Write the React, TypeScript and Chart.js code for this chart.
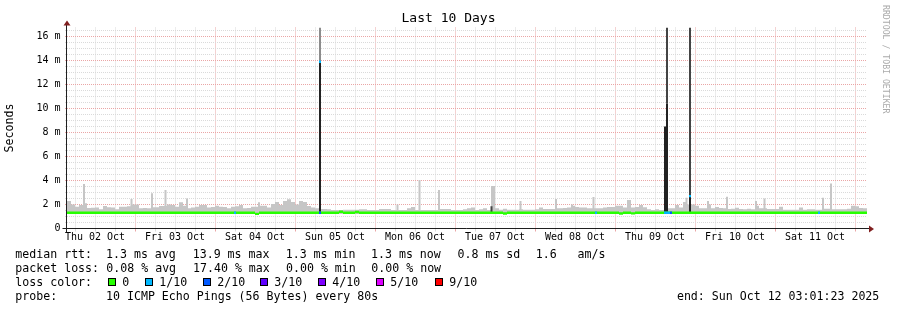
import React, { useEffect, useRef } from 'react';
import { Chart, registerables } from 'chart.js';

Chart.register(...registerables);

const FONT = "'DejaVu Sans Mono', 'Liberation Mono', monospace";

const chartTitle = 'Last 10 Days';
const yAxisTitle = 'Seconds';
const watermark = 'RRDTOOL / TOBI OETIKER';

// time axis: hours since Thu 02 Oct 00:00
const timeStart = 3.6;
const timeEnd = 243.6;
const bucketHours = 1.2;
const dayLabels = [
  'Thu 02 Oct', 'Fri 03 Oct', 'Sat 04 Oct', 'Sun 05 Oct', 'Mon 06 Oct',
  'Tue 07 Oct', 'Wed 08 Oct', 'Thu 09 Oct', 'Fri 10 Oct', 'Sat 11 Oct',
];

// value axis in milliseconds ("m")
const yMax = 16.75;

// smoke: upper edge of the ping spread per 1.2 h bucket (ms)
const smokeFloor = 1.2;
const smokeTop = [
  2.3, 2.0, 1.82, 1.95, 2.1, 1.7, 1.72, 1.74, 1.6, 1.88, 1.77, 1.75, 1.6, 1.82, 1.82, 1.85, 2.0, 2.0, 1.68, 1.7,
  1.68, 1.77, 1.77, 1.88, 1.88, 2.0, 1.95, 1.82, 2.18, 1.9, 1.68, 1.75, 1.82, 1.96, 1.96, 1.74, 1.8, 1.9, 1.82, 1.8,
  1.68, 1.82, 1.85, 1.96, 1.68, 1.7, 1.82, 1.82, 1.9, 1.9, 1.75, 2.05, 2.2, 1.96, 2.29, 2.43, 2.2, 2.0, 2.29, 2.2,
  1.88, 1.75, 1.68, 1.63, 1.63, 1.6, 1.54, 1.54, 1.55, 1.57, 1.57, 1.57, 1.57, 1.6, 1.6, 1.54, 1.54, 1.54, 1.63, 1.63,
  1.63, 1.55, 1.55, 1.54, 1.54, 1.68, 1.8, 1.54, 1.54, 1.54, 1.54, 1.54, 1.54, 1.63, 1.63, 1.63, 1.54, 1.54, 1.54, 1.6,
  1.68, 1.74, 1.54, 1.6, 1.68, 1.54, 3.54, 1.68, 1.57, 1.65, 1.57, 1.57, 1.57, 1.6, 1.57, 1.57, 1.57, 1.6, 1.74, 1.63,
  1.63, 1.63, 1.68, 1.68, 1.7, 1.74, 1.9, 1.8, 1.74, 1.74, 1.68, 1.68, 1.68, 1.68, 1.75, 1.8, 1.8, 1.9, 1.9, 1.74,
  2.37, 1.74, 1.8, 1.96, 1.77, 1.6, 1.54, 1.6, 1.54, 1.54, 1.68, 1.68, 1.96, 1.75, 2.2, 2.0, 2.0, 1.9, 1.68, 1.68,
  2.0, 1.68, 1.8, 1.7, 1.68, 1.63, 1.65, 1.72, 1.63, 1.6, 1.65, 1.6, 1.9, 1.68, 1.68, 1.63, 1.63, 1.63, 1.82, 1.57,
  1.57, 1.57, 1.57, 1.74, 1.57, 1.6, 1.6, 1.57, 1.57, 1.65, 1.65, 1.6, 1.6, 1.6, 1.6, 1.65, 1.9, 1.85, 1.7, 1.68,
];

// short smoke peaks: [hour, top ms]
const smokePeaks = [
  [8.7, 3.7], [22.95, 2.46], [29.1, 2.93], [33.15, 3.21], [39.6, 2.51], [61.2, 2.18],
  [102.75, 2.0], [109.35, 4.04], [115.2, 3.21], [139.65, 2.29], [150.3, 2.46], [155.1, 2.0],
  [161.55, 2.63], [189.45, 2.57], [195.9, 2.29], [201.6, 2.65], [210.3, 2.29], [212.85, 2.51],
  [230.4, 2.57], [232.8, 3.76],
];

// dense smoke: [hour, low ms, high ms, density level 1..3]
const denseSmoke = [
  [79.5, 13.9, 16.75, 1], [79.5, 1.31, 13.9, 3],
  [183.0, 1.31, 8.5, 3], [183.6, 10.4, 16.75, 2], [183.6, 1.31, 10.4, 3],
  [190.5, 2.7, 16.75, 2], [190.5, 1.2, 2.7, 3],
  [130.95, 1.35, 1.85, 2],
];

// median rtt per bucket (ms)
const medianRtt = [
  1.31, 1.31, 1.31, 1.31, 1.31, 1.31, 1.31, 1.31, 1.31, 1.31, 1.31, 1.31, 1.31, 1.31, 1.31, 1.31, 1.31, 1.31, 1.31, 1.31,
  1.31, 1.31, 1.31, 1.31, 1.31, 1.31, 1.31, 1.31, 1.31, 1.31, 1.31, 1.31, 1.31, 1.31, 1.31, 1.31, 1.31, 1.31, 1.31, 1.31,
  1.31, 1.31, 1.31, 1.31, 1.31, 1.31, 1.31, 1.22, 1.31, 1.31, 1.31, 1.31, 1.31, 1.31, 1.31, 1.31, 1.31, 1.31, 1.31, 1.31,
  1.31, 1.31, 1.31, 1.31, 1.31, 1.31, 1.31, 1.31, 1.4, 1.31, 1.31, 1.31, 1.38, 1.31, 1.31, 1.31, 1.31, 1.31, 1.31, 1.31,
  1.31, 1.31, 1.31, 1.31, 1.31, 1.31, 1.31, 1.31, 1.31, 1.31, 1.31, 1.31, 1.31, 1.31, 1.31, 1.31, 1.31, 1.31, 1.31, 1.31,
  1.31, 1.31, 1.31, 1.31, 1.31, 1.31, 1.31, 1.31, 1.31, 1.25, 1.31, 1.31, 1.31, 1.31, 1.31, 1.31, 1.31, 1.31, 1.31, 1.31,
  1.31, 1.31, 1.31, 1.31, 1.31, 1.31, 1.31, 1.31, 1.31, 1.31, 1.31, 1.31, 1.31, 1.31, 1.31, 1.31, 1.31, 1.31, 1.25, 1.31,
  1.31, 1.26, 1.31, 1.31, 1.31, 1.31, 1.31, 1.31, 1.31, 1.31, 1.31, 1.31, 1.31, 1.31, 1.31, 1.31, 1.31, 1.31, 1.31, 1.31,
  1.31, 1.31, 1.31, 1.31, 1.31, 1.31, 1.31, 1.31, 1.31, 1.31, 1.31, 1.31, 1.31, 1.31, 1.31, 1.31, 1.31, 1.31, 1.31, 1.31,
  1.31, 1.31, 1.31, 1.31, 1.31, 1.31, 1.31, 1.31, 1.31, 1.31, 1.31, 1.31, 1.31, 1.31, 1.31, 1.31, 1.31, 1.31, 1.31, 1.31,
];

// median samples with packet loss: [hour, median ms, lost pings out of 10]
const lossMarks = [
  [54.0, 1.31, 1], [79.5, 13.9, 1], [79.5, 1.31, 2], [162.3, 1.31, 1],
  [183.0, 1.31, 1], [183.6, 1.31, 1], [184.2, 1.31, 1], [184.8, 1.31, 2],
  [190.5, 2.7, 1], [229.2, 1.31, 1],
];

const lossSteps = [0, 1, 2, 3, 4, 5, 9];
const lossLabels = ['0', '1/10', '2/10', '3/10', '4/10', '5/10', '9/10'];
const lossColors = ['#26ff00', '#00b8ff', '#0059ff', '#5e00ff', '#7e00ff', '#dd00ff', '#ff0000'];

const rttStats = ['1.3 ms avg', '13.9 ms max', '1.3 ms min', '1.3 ms now', '0.8 ms sd', '1.6   am/s'];
const lossStats = ['0.08 % avg', '17.40 % max', '0.00 % min', '0.00 % now'];
const probeText = '10 ICMP Echo Pings (56 Bytes) every 80s';
const endText = 'end: Sun Oct 12 03:01:23 2025';

// styling
const smokeColor = '#c6c6c6';
const denseColors = ['', '#8c8c8c', '#444444', '#222222'];
const gridMinor = '#dadada';
const gridMajor = '#eaa6a6';
const axisColor = '#1f1f1f';
const arrowColor = 'rgb(128,31,31)';

const lossColorFor = (loss: number) => lossColors[Math.max(0, lossSteps.indexOf(loss))];
const bucketTime = (i: number) => timeStart + bucketHours * (i + 0.5);

const axesPlugin = {
  id: 'rrdAxes',
  afterDatasetsDraw(chart: any) {
    const { ctx, chartArea: a } = chart;
    const x0 = a.left - 0.5;
    const y0 = a.bottom;
    ctx.save();
    ctx.strokeStyle = axisColor;
    ctx.lineWidth = 1;
    ctx.beginPath();
    ctx.moveTo(a.left - 4.5, y0);
    ctx.lineTo(a.right + 4, y0);
    ctx.moveTo(x0, y0 + 4);
    ctx.lineTo(x0, a.top - 4);
    ctx.stroke();
    ctx.fillStyle = arrowColor;
    ctx.beginPath();
    ctx.moveTo(x0 - 3, a.top - 2);
    ctx.lineTo(x0 + 4, a.top - 2);
    ctx.lineTo(x0 + 0.5, a.top - 7);
    ctx.closePath();
    ctx.fill();
    ctx.beginPath();
    ctx.moveTo(a.right + 2, y0 - 3);
    ctx.lineTo(a.right + 2, y0 + 4);
    ctx.lineTo(a.right + 7, y0 + 0.5);
    ctx.closePath();
    ctx.fill();
    ctx.restore();
  },
};

const legendPlugin = {
  id: 'rrdLegend',
  afterDraw(chart: any) {
    const { ctx } = chart;
    const rows = [257.5, 271.7, 285.9, 300.1];
    const labelX = 15.3;
    const statX = [106, 192.7, 285.7, 371, 457.5, 535.7];
    const squareX = [108, 145, 203, 260, 318, 376, 435];
    ctx.save();
    ctx.font = `11.6px ${FONT}`;
    ctx.fillStyle = '#000';
    ctx.textAlign = 'left';
    ctx.textBaseline = 'alphabetic';
    ctx.fillText('median rtt:', labelX, rows[0]);
    rttStats.forEach((s, i) => ctx.fillText(s, statX[i], rows[0]));
    ctx.fillText('packet loss:', labelX, rows[1]);
    lossStats.forEach((s, i) => ctx.fillText(s, statX[i] + 0.3, rows[1]));
    ctx.fillText('loss color:', labelX, rows[2]);
    lossLabels.forEach((s, i) => {
      const sx = squareX[i];
      ctx.fillStyle = lossColors[i];
      ctx.fillRect(sx, 278, 8, 8);
      ctx.strokeStyle = '#000';
      ctx.lineWidth = 1;
      ctx.strokeRect(sx + 0.5, 278.5, 7, 7);
      ctx.fillStyle = '#000';
      ctx.fillText(s, sx + 14.2, rows[2]);
    });
    ctx.fillText('probe:', labelX, rows[3]);
    ctx.fillText(probeText, 106, rows[3]);
    ctx.fillText(endText, 676.9, rows[3]);

    ctx.font = `8.2px ${FONT}`;
    ctx.fillStyle = '#aaaaaa';
    ctx.translate(883, 5);
    ctx.rotate(Math.PI / 2);
    ctx.fillText(watermark, 0, 0);
    ctx.restore();
  },
};

export default function App() {
  const ref = useRef<HTMLCanvasElement | null>(null);

  useEffect(() => {
    if (!ref.current) return;
    Chart.defaults.font.family = FONT;

    const smokeData = smokeTop.map((v, i) => ({ x: bucketTime(i), y: [smokeFloor, v] }));
    const peakData = smokePeaks.map(([t, v]) => ({ x: t, y: [smokeFloor, v] }));
    const denseData = denseSmoke.map(([t, lo, hi]) => ({ x: t, y: [lo, hi] }));
    const denseBg = denseSmoke.map((d) => denseColors[d[3]]);
    const medianData = medianRtt.map((m, i) => ({ x: bucketTime(i), y: [m - 0.1, m + 0.1] }));
    const markData = lossMarks.map(([t, m]) => ({ x: t, y: [m - 0.1, m + 0.1] }));
    const markBg = lossMarks.map((d) => lossColorFor(d[2]));

    const common = { grouped: false, borderWidth: 0, inflateAmount: 0, borderSkipped: false };

    const chart = new Chart(ref.current, {
      type: 'bar',
      data: {
        datasets: [
          { ...common, label: 'loss', data: markData as any, backgroundColor: markBg, barThickness: 2, order: 0 },
          { ...common, label: 'median rtt', data: medianData as any, backgroundColor: lossColors[0], barThickness: 4, order: 1 },
          { ...common, label: 'dense smoke', data: denseData as any, backgroundColor: denseBg, barThickness: 2, order: 2 },
          { ...common, label: 'smoke peaks', data: peakData as any, backgroundColor: smokeColor, barThickness: 2, order: 3 },
          { ...common, label: 'smoke', data: smokeData as any, backgroundColor: smokeColor, barThickness: 4, order: 4 },
        ],
      },
      options: {
        animation: false,
        responsive: false,
        devicePixelRatio: 1,
        events: [],
        layout: { padding: 0 },
        plugins: {
          legend: { display: false },
          tooltip: { enabled: false },
          title: {
            display: true,
            text: chartTitle,
            color: '#000',
            font: { family: FONT, size: 13, weight: 'normal', lineHeight: 1.2 },
            padding: { top: 11.2, bottom: 0.7 },
          },
        },
        scales: {
          x: {
            type: 'linear',
            position: 'bottom',
            min: timeStart,
            max: timeEnd,
            offset: false,
            afterBuildTicks: (s: any) => {
              const t = [];
              for (let h = 6; h <= 240; h += 6) t.push({ value: h });
              s.ticks = t;
            },
            afterFit: (s: any) => {
              s.height = 81.5;
              s.paddingLeft = 0;
              s.paddingRight = 0;
            },
            ticks: {
              autoSkip: false,
              maxRotation: 0,
              minRotation: 0,
              padding: 0,
              color: '#000',
              font: { family: FONT, size: 10 },
              callback: (v: any) => {
                const h = Number(v);
                return h % 24 === 12 ? dayLabels[(h - 12) / 24] : '';
              },
            },
            grid: {
              offset: false,
              lineWidth: 1,
              tickLength: 3,
              color: (c: any) => (c.tick && c.tick.value % 24 === 0 ? gridMajor : gridMinor),
            },
            border: { display: false, dash: [1, 1] },
          },
          y: {
            type: 'linear',
            position: 'left',
            min: 0,
            max: yMax,
            afterBuildTicks: (s: any) => {
              const t = [];
              for (let v = 0; v <= 16.5; v += 0.5) t.push({ value: v });
              s.ticks = t;
            },
            afterFit: (s: any) => {
              s.width = 67;
              s.paddingTop = 0;
              s.paddingBottom = 0;
            },
            title: {
              display: true,
              text: yAxisTitle,
              color: '#000',
              font: { family: FONT, size: 11.6, lineHeight: 1.2 },
              padding: { top: 3, bottom: 0 },
            },
            ticks: {
              autoSkip: false,
              padding: 4.5,
              color: '#000',
              font: { family: FONT, size: 10 },
              callback: (v: any) => {
                const n = Number(v);
                if (n === 0) return '0';
                return n % 2 === 0 ? `${n} m` : '';
              },
            },
            grid: {
              lineWidth: 1,
              tickLength: 2,
              color: (c: any) => (c.tick && c.tick.value % 2 === 0 ? gridMajor : gridMinor),
            },
            border: { display: false, dash: [1, 1] },
          },
          yRight: {
            type: 'linear',
            position: 'right',
            display: true,
            grid: { display: false },
            ticks: { display: false },
            border: { display: false },
            afterFit: (s: any) => {
              s.width = 30;
              s.paddingTop = 0;
              s.paddingBottom = 0;
            },
          },
        },
      } as any,
      plugins: [axesPlugin, legendPlugin],
    });
    return () => chart.destroy();
  }, []);

  return (
    <div style={{ position: 'absolute', left: 0, top: 0, width: 897, height: 310, background: '#fff' }}>
      <canvas ref={ref} width={897} height={310} style={{ display: 'block' }} />
    </div>
  );
}
